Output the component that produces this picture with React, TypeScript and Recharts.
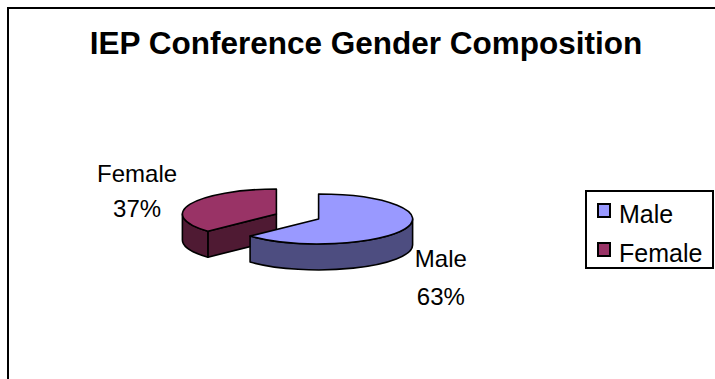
import React from 'react';
import { PieChart, Pie, Legend } from 'recharts';

const title = 'IEP Conference Gender Composition';
const categories = ['Male', 'Female'];
const values = [63, 37];
const topColors = ['#9999FF', '#993366'];
const sideColors = ['#4D4D80', '#4F1A33'];

// paint order: Female (back) first, then Male (front)
const paintOrder = [1, 0];
const pieData = paintOrder.map((i) => ({ name: categories[i], value: values[i], idx: i }));
const total = values.reduce((a, b) => a + b, 0);
// Male begins at 12 o'clock and runs clockwise
const START = 90 - (360 * values[0]) / total;

const RY_RATIO = 25 / 94;
const DEPTH = 26;
const EXPLODE = 23;
const FONT = '"Liberation Sans", Arial, sans-serif';
const STROKE = { stroke: '#000', strokeWidth: 1.6, strokeLinejoin: 'round' as const };

const renderSlice = (props: any) => {
  const { cx, cy, startAngle: sa, endAngle: ea, outerRadius, percent, index } = props;
  const i: number = props.payload?.idx ?? props.idx ?? paintOrder[index];
  const rad = Math.PI / 180;
  const rx = outerRadius;
  const ry = outerRadius * RY_RATIO;
  const t1 = (((90 - sa) % 360) + 360) % 360;
  const span = Math.abs(sa - ea);
  const t2 = t1 + span;
  const tm = (t1 + t2) / 2;
  const ox = cx + EXPLODE * Math.sin(tm * rad);
  const oy = cy - EXPLODE * RY_RATIO * Math.cos(tm * rad);
  const P = (t: number, dy = 0) => [ox + rx * Math.sin(t * rad), oy - ry * Math.cos(t * rad) + dy];
  const f = (p: number[]) => `${p[0].toFixed(2)} ${p[1].toFixed(2)}`;
  const parts: React.ReactNode[] = [];

  // cut faces
  const cutFace = (t: number, key: string) => {
    const p = P(t);
    const pd = P(t, DEPTH);
    parts.push(
      <path key={key} d={`M ${ox} ${oy} L ${f(p)} L ${f(pd)} L ${ox} ${oy + DEPTH} Z`} fill={sideColors[i]} {...STROKE} />
    );
  };
  if (Math.sin(t1 * rad) < -1e-6) cutFace(t1, 'c1');
  if (Math.sin(t2 * rad) > 1e-6) cutFace(t2, 'c2');

  // outer (front) wall
  [[90, 270], [450, 630]].forEach(([lo, hi], k) => {
    const a = Math.max(t1, lo);
    const b = Math.min(t2, hi);
    if (b - a > 0.01) {
      const large = b - a > 180 ? 1 : 0;
      const d = `M ${f(P(a))} A ${rx} ${ry} 0 ${large} 1 ${f(P(b))} L ${f(P(b, DEPTH))} A ${rx} ${ry} 0 ${large} 0 ${f(P(a, DEPTH))} Z`;
      parts.push(<path key={'w' + k} d={d} fill={sideColors[i]} {...STROKE} />);
    }
  });

  // top face
  const large = span > 180 ? 1 : 0;
  parts.push(
    <path key="top" d={`M ${ox} ${oy} L ${f(P(t1))} A ${rx} ${ry} 0 ${large} 1 ${f(P(t2))} Z`} fill={topColors[i]} {...STROKE} />
  );

  // data label
  const m = P(tm);
  const left = Math.sin(tm * rad) < 0;
  const lx = left ? m[0] - 53 : m[0] + 36;
  const b1 = left ? m[1] - 22 : m[1] + 38;
  const b2 = left ? m[1] + 13 : m[1] + 76;
  parts.push(
    <text key="lbl" x={lx} textAnchor="middle" fontFamily={FONT} fontSize={24} fill="#000">
      <tspan x={lx} y={b1}>{categories[i]}</tspan>
      <tspan x={lx} y={b2}>{`${Math.round(percent * 100)}%`}</tspan>
    </text>
  );
  return <g key={'slice' + i}>{parts}</g>;
};

const renderLegend = () => (
  <svg width={130} height={80} style={{ display: 'block' }}>
    <rect x={1} y={1} width={127} height={77} fill="#fff" stroke="#000" strokeWidth={2} />
    {categories.map((c, i) => (
      <g key={c}>
        <rect x={13} y={14 + i * 39} width={12} height={13} fill={topColors[i]} stroke="#000" strokeWidth={2} />
        <text x={34} y={33 + i * 39} fontFamily={FONT} fontSize={25} fill="#000">{c}</text>
      </g>
    ))}
  </svg>
);

export default function App() {
  return (
    <>
      <style>{'body{margin:0;overflow:hidden;}'}</style>
      <div
        style={{
          position: 'absolute',
          left: 7,
          top: 7,
          width: 706,
          height: 370,
          borderTop: '2px solid #000',
          borderLeft: '2px solid #000',
          background: '#fff',
        }}
      >
        <PieChart width={706} height={370} margin={{ top: 0, right: 0, bottom: 0, left: 0 }}>
          <text x={357} y={45} textAnchor="middle" fontFamily={FONT} fontSize={31.5} fontWeight="bold" fill="#000">
            {title}
          </text>
          <Pie
            data={pieData}
            dataKey="value"
            nameKey="name"
            cx={288.5}
            cy={207.5}
            outerRadius={94}
            startAngle={START}
            endAngle={START - 360}
            fill="transparent"
            stroke="none"
            label={renderSlice}
            labelLine={false}
            isAnimationActive={false}
          />
          <Legend
            content={renderLegend}
            wrapperStyle={{ position: 'absolute', left: 576, top: 181, width: 130, height: 80 }}
          />
        </PieChart>
      </div>
    </>
  );
}
